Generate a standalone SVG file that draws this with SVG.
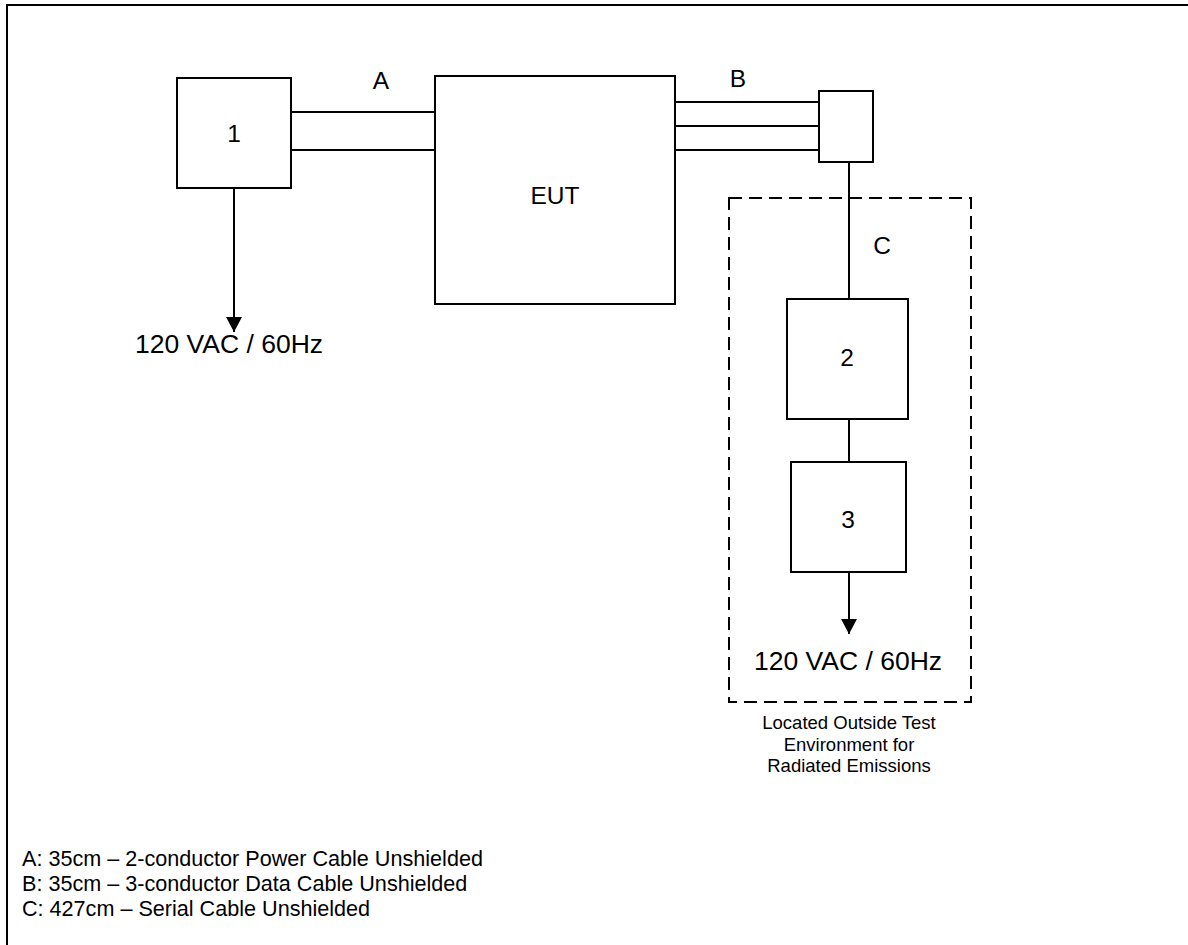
<svg xmlns="http://www.w3.org/2000/svg" width="1188" height="945" viewBox="0 0 1188 945">
<style>
.box{fill:#fff;stroke:#000;stroke-width:2}
.ln{stroke:#000;stroke-width:2;fill:none}
.t{font-family:"Liberation Sans",Arial,sans-serif;fill:#000}
.big{font-size:24.5px;text-anchor:middle}
.pwr{font-size:26.5px;text-anchor:middle}
.leg{font-size:21.6px}
.cap{font-size:18.5px;text-anchor:middle}
</style>
<defs>
<marker id="ah" markerWidth="16" markerHeight="16" refX="15" refY="8" orient="auto" markerUnits="userSpaceOnUse" viewBox="0 0 16 16">
<path d="M0,0 L15,8 L0,16 Z" fill="#000"/>
</marker>
</defs>
<rect width="1188" height="945" fill="#fff"/>
<path d="M7,945 V5 H1188" class="ln"/>
<rect x="729" y="198" width="242" height="504" fill="none" stroke="#000" stroke-width="2" stroke-dasharray="13,7"/>
<g id="connectors">
<line x1="291" y1="112" x2="435" y2="112" class="ln"/>
<line x1="291" y1="150" x2="435" y2="150" class="ln"/>
<line x1="675" y1="102" x2="819" y2="102" class="ln"/>
<line x1="675" y1="126" x2="819" y2="126" class="ln"/>
<line x1="675" y1="150" x2="819" y2="150" class="ln"/>
<line x1="849" y1="162" x2="849" y2="299" class="ln"/>
<line x1="849" y1="419" x2="849" y2="462" class="ln"/>
<line x1="234" y1="188" x2="234" y2="332" class="ln" marker-end="url(#ah)"/>
<line x1="849" y1="572" x2="849" y2="634" class="ln" marker-end="url(#ah)"/>
</g>
<g id="node1"><rect x="177" y="78" width="114" height="110" class="box"/><text x="234" y="142" class="t big">1</text></g>
<g id="eut"><rect x="435" y="76" width="240" height="228" class="box"/><text x="555" y="204" class="t big">EUT</text></g>
<g id="junction"><rect x="819" y="91" width="54" height="71" class="box"/></g>
<g id="node2"><rect x="787" y="299" width="121" height="120" class="box"/><text x="847" y="366" class="t big">2</text></g>
<g id="node3"><rect x="791" y="462" width="115" height="110" class="box"/><text x="848" y="528" class="t big">3</text></g>
<g id="labels">
<text x="381" y="89" class="t big">A</text>
<text x="738" y="87" class="t big">B</text>
<text x="882" y="254" class="t big">C</text>
<text x="229" y="353" class="t pwr">120 VAC / 60Hz</text>
<text x="848" y="670" class="t pwr">120 VAC / 60Hz</text>
<text x="849" y="729" class="t cap">Located Outside Test</text>
<text x="849" y="751" class="t cap">Environment for</text>
<text x="849" y="772" class="t cap">Radiated Emissions</text>
<text x="22" y="866" class="t leg">A: 35cm – 2-conductor Power Cable Unshielded</text>
<text x="22" y="891" class="t leg">B: 35cm – 3-conductor Data Cable Unshielded</text>
<text x="22" y="916" class="t leg">C: 427cm – Serial Cable Unshielded</text>
</g>
</svg>
